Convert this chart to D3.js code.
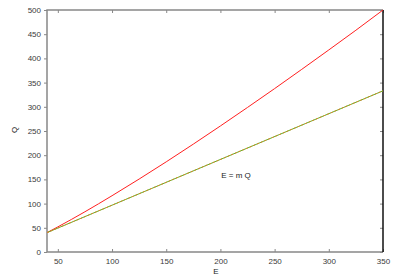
<!DOCTYPE html>
<html>
<head>
<style>
  body { margin: 0; background: #fff; }
  svg { display: block; font-family: "Liberation Sans", Arial, sans-serif; }
</style>
<script src="https://cdn.jsdelivr.net/npm/d3@7"></script>
</head>
<body>
<svg id="chart"></svg>
<script>
// values
const curveE = [40, 50, 75, 100, 125, 150, 175, 200, 225, 250, 275, 300, 325, 350];
const curveQ = [40, 51.9, 83.1, 116.3, 150.7, 186.3, 222.9, 260.4, 298.7, 337.6, 377.3, 417.5, 458.2, 500];
const lineE = [40, 350];
const lineQ = [40, 333];
const xTicks = [50, 100, 150, 200, 250, 300, 350];
const yTicks = [0, 50, 100, 150, 200, 250, 300, 350, 400, 450, 500];

const width = 396, height = 277;
const margin = {top: 10, right: 13, bottom: 25, left: 47};

const svg = d3.select("#chart").attr("width", width).attr("height", height);

const x = d3.scaleLinear().domain([40, 350]).range([margin.left, width - margin.right]);
const y = d3.scaleLinear().domain([0, 500]).range([height - margin.bottom, margin.top]);

function styleAxis(g, col) {
  g.select(".domain").remove();
  g.selectAll(".tick line").attr("stroke", col);
  g.selectAll(".tick text").attr("fill", "#3a3a3a").style("font-size", "8px");
}

// bottom / top / right ticks point inward, left ones stick out a little
svg.append("g").attr("transform", `translate(0,${height - margin.bottom})`)
  .call(d3.axisBottom(x).tickValues(xTicks).tickSizeInner(-3).tickPadding(6))
  .call(g => styleAxis(g, "#888"));
svg.append("g").attr("transform", `translate(0,${margin.top})`)
  .call(d3.axisTop(x).tickValues(xTicks).tickSizeInner(-3).tickFormat(""))
  .call(g => styleAxis(g, "#888"));
svg.append("g").attr("transform", `translate(${margin.left},0)`)
  .call(d3.axisLeft(y).tickValues(yTicks).tickSizeInner(3).tickPadding(3))
  .call(g => styleAxis(g, "#888"));
svg.append("g").attr("transform", `translate(${width - margin.right},0)`)
  .call(d3.axisRight(y).tickValues(yTicks).tickSizeInner(-3).tickFormat(""))
  .call(g => styleAxis(g, "#888"));

// border
const x0 = margin.left, x1 = width - margin.right, y0 = margin.top, y1 = height - margin.bottom;
svg.append("path").attr("d", `M${x1},${y0}H${x0}V${y1}H${x1}`)
  .attr("fill", "none").attr("stroke", "#888").attr("stroke-width", 1.5);
svg.append("line").attr("x1", x1).attr("x2", x1).attr("y1", y0).attr("y2", y1)
  .attr("stroke", "#111").attr("stroke-width", 1.5);

const line = d3.line().x(d => x(d[0])).y(d => y(d[1])).curve(d3.curveMonotoneX);

svg.append("path").datum(curveE.map((e, i) => [e, curveQ[i]]))
  .attr("d", line).attr("fill", "none").attr("stroke", "#ff2020").attr("stroke-width", 1);

const straight = lineE.map((e, i) => [e, lineQ[i]]);
svg.append("path").datum(straight)
  .attr("d", line).attr("fill", "none").attr("stroke", "#60b020").attr("stroke-width", 1);
svg.append("path").datum(straight)
  .attr("d", line).attr("fill", "none").attr("stroke", "#e08030").attr("stroke-width", 1)
  .attr("stroke-dasharray", "2,2");

// labels
svg.append("text").attr("x", 236).attr("y", 178).attr("text-anchor", "middle")
  .style("font-size", "8px").attr("fill", "#222").text("E = m Q");
svg.append("text").attr("x", 216).attr("y", 274).attr("text-anchor", "middle")
  .style("font-size", "8px").attr("fill", "#222").text("E");
svg.append("text").attr("transform", "translate(17,130) rotate(-90)").attr("text-anchor", "middle")
  .style("font-size", "8px").attr("fill", "#222").text("Q");
</script>
</body>
</html>
